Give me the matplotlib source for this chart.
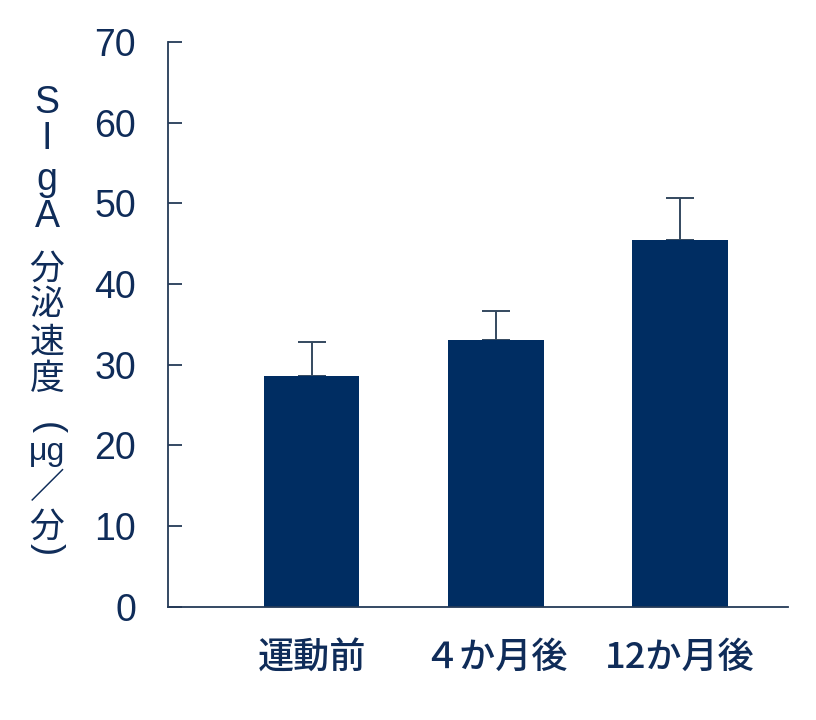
import matplotlib
matplotlib.use('Agg')
import matplotlib.pyplot as plt
import numpy as np

# データ
groups = ['運動前', '４か月後', '12か月後']
means = [28.6, 33.1, 45.5]
err_up = [4.2, 3.6, 5.1]
yticks = [0, 10, 20, 30, 40, 50, 60, 70]
ylabel_chars = ['S', 'I', 'g', 'A', '分', '泌', '速', '度', '(', 'μg', '／', '分', ')']

navy = '#002d62'
textc = '#0f2c59'
axc = '#243a57'

plt.rcParams['font.family'] = ['Liberation Sans', 'Noto Sans CJK JP', 'DejaVu Sans']

fig = plt.figure(figsize=(8.16, 7.2), dpi=100)
ax = fig.add_axes([0.206, 0.157, 0.76, 0.785])

x = np.arange(len(groups))
ax.bar(x, means, width=0.52, color=navy, zorder=2)
ax.errorbar(x, means, yerr=[np.zeros(len(err_up)), err_up], fmt='none',
            ecolor='#34495f', elinewidth=1.4, capsize=10, capthick=1.4, zorder=1)

ax.set_xlim(-0.78, 2.59)
ax.set_ylim(0, 70)
ax.set_yticks(yticks)
ax.set_yticklabels([str(v) for v in yticks], fontsize=27, color=textc)
ax.tick_params(axis='y', direction='in', length=10, width=1.3, color=axc, pad=23)
ax.set_xticks(x)
ax.set_xticklabels(groups, fontsize=26, color=textc,
                   family=['Noto Sans CJK JP', 'DejaVu Sans'])
ax.tick_params(axis='x', length=0, pad=24)
for lbl in ax.get_xticklabels():
    lbl.set_fontweight('medium')

for s in ['top', 'right']:
    ax.spines[s].set_visible(False)
for s in ['left', 'bottom']:
    ax.spines[s].set_color(axc)
    ax.spines[s].set_linewidth(1.3)

# 縦書きラベル（1文字ずつ並べる、括弧は90度回転）
ypos = [103, 139, 180, 217, 269, 304, 342, 380, 428, 452, 489, 527, 549]
latin = ('S', 'I', 'g', 'A')
for ch, yp in zip(ylabel_chars, ypos):
    rot = 0
    fam = ['Noto Sans CJK JP', 'DejaVu Sans']
    size = 25
    if ch in latin:
        fam = ['Liberation Sans', 'DejaVu Sans']
        size = 27
    elif ch == 'μg':
        fam = ['Liberation Sans', 'DejaVu Sans']
        size = 23
    elif ch in ('(', ')'):
        fam = ['Liberation Sans', 'DejaVu Sans']
        size = 26
        rot = 270
    fig.text(47 / 816, 1 - yp / 720, ch, fontsize=size, color=textc, family=fam,
             rotation=rot, ha='center', va='center')

plt.savefig('out.png', dpi=100)
